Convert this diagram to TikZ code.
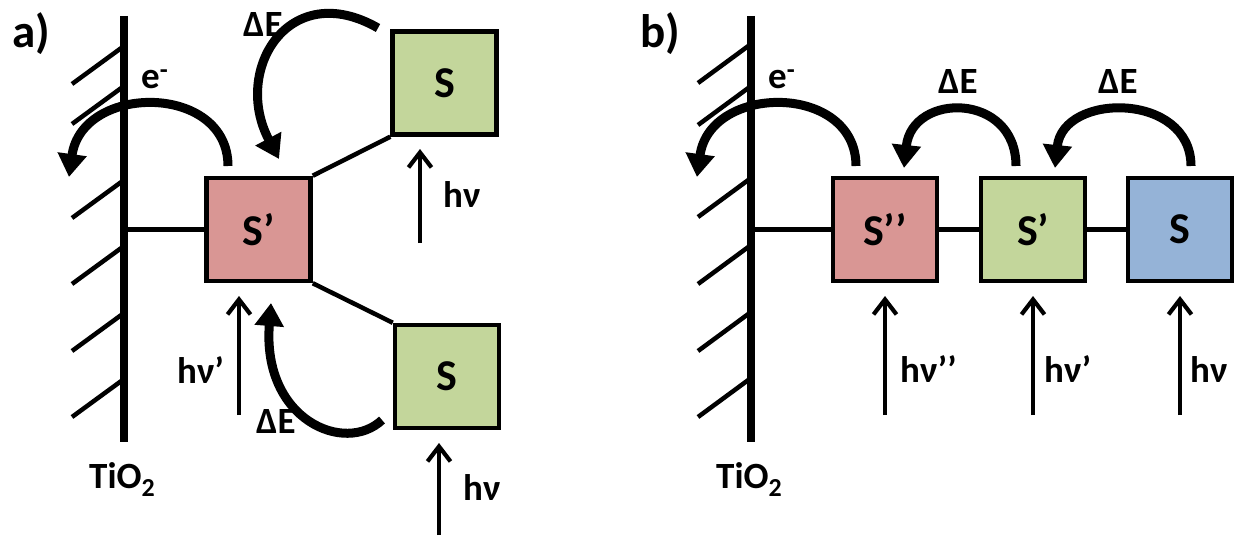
\documentclass[tikz,border=0pt]{standalone}
\usepackage{fontspec}
\setmainfont{Carlito}
\usetikzlibrary{arrows.meta}
\definecolor{pinkfill}{HTML}{D99694}
\definecolor{greenfill}{HTML}{C3D69B}
\definecolor{bluefill}{HTML}{95B3D7}
\begin{document}
\begin{tikzpicture}[x=1pt,y=-1pt,
  wall/.style={line width=7.5pt},
  hatch/.style={line width=4.5pt},
  conn/.style={line width=4.5pt},
  box/.style={draw, line width=4.5pt, minimum width=104pt, minimum height=103pt, inner sep=0pt,
    font=\fontsize{44}{50}\selectfont\bfseries},
  hvarrow/.style={line width=4.2pt, -{Straight Barb[length=15pt,width=23pt]}},
  bigarrow/.style={line width=9pt, -{Triangle[length=23pt,width=28pt]}},
  lab/.style={anchor=base west, inner sep=0pt, font=\fontsize{37}{42}\selectfont\bfseries},
  panel/.style={anchor=base west, inner sep=0pt, font=\fontsize{47}{52}\selectfont\bfseries}
]
\useasboundingbox (0,0) rectangle (1241,535);

% ---------------- panel a ----------------
\node[panel] (pa) at (12,48) {a)};
\coordinate (wAt) at (124,16);
\coordinate (wAb) at (124,442);
\draw[wall] (wAt) -- (wAb);
\foreach \y in {46,86,180,246,313,379}
  \draw[hatch] (124,\y) -- ++(-52,38);
\node[lab] (tioA) at (89,488) {TiO\textsubscript{2}};

\node[box, fill=pinkfill] (Sp) at (258.5,229.5) {S’};
\node[box, fill=greenfill] (St) at (444.5,83) {S};
\node[box, fill=greenfill] (Sb) at (447,376.5) {S};

\draw[conn] (Sp.west) -- (Sp.west -| wAt);
\draw[conn] (Sp.north east) -- (St.south west);
\draw[conn] (Sp.south east) -- (Sb.north west);

% h nu arrows (a)
\coordinate (hvA1s) at (420,243);
\coordinate (hvA1e) at (420,149);
\draw[hvarrow] (hvA1s) -- (hvA1e);
\node[lab] (lhvA1) at (443,207) {hν};
\coordinate (hvA2s) at (239,415);
\coordinate (hvA2e) at (239,296);
\draw[hvarrow] (hvA2s) -- (hvA2e);
\node[lab] (lhvA2) at (177,383) {hν’};
\coordinate (hvA3s) at (439,535);
\coordinate (hvA3e) at (439,443);
\draw[hvarrow] (hvA3s) -- (hvA3e);
\node[lab] (lhvA3) at (463,500) {hν};

% curved arrows (a)
\coordinate (eAs) at (228,166);
\coordinate (eAe) at (69,177);
\draw[bigarrow] (eAs) .. controls (228,83) and (82,83) .. (eAe);
\node[lab] (leA) at (141,88) {e\textsuperscript{-}};

\coordinate (dA1s) at (378,28);
\coordinate (dA1e) at (279,159);
\draw[bigarrow] (dA1s) .. controls (289,-23) and (232,70) .. (dA1e);
\node[lab] (ldA1) at (243,37) {ΔE};

\coordinate (dA2s) at (382,420);
\coordinate (dA2e) at (271,303);
\draw[bigarrow] (dA2s) .. controls (345,455) and (262,420) .. (dA2e);
\node[lab] (ldA2) at (256,433) {ΔE};

% ---------------- panel b ----------------
\node[panel] (pb) at (640,48) {b)};
\coordinate (wBt) at (751,16);
\coordinate (wBb) at (751,442);
\draw[wall] (wBt) -- (wBb);
\foreach \y in {44,86,178,245,312,378}
  \draw[hatch] (751,\y) -- ++(-53,39);
\node[lab] (tioB) at (716,488) {TiO\textsubscript{2}};

\node[box, fill=pinkfill] (B1) at (885,229.5) {S’’};
\node[box, fill=greenfill] (B2) at (1033,229.5) {S’};
\node[box, fill=bluefill] (B3) at (1180,229.5) {S};

\draw[conn] (B1.west) -- (B1.west -| wBt);
\draw[conn] (B1.east) -- (B2.west);
\draw[conn] (B2.east) -- (B3.west);

\coordinate (hvB1s) at (885,415);
\coordinate (hvB1e) at (885,296);
\draw[hvarrow] (hvB1s) -- (hvB1e);
\node[lab] (lhvB1) at (900,382) {hν’’};
\coordinate (hvB2s) at (1033,415);
\coordinate (hvB2e) at (1033,296);
\draw[hvarrow] (hvB2s) -- (hvB2e);
\node[lab] (lhvB2) at (1044,382) {hν’};
\coordinate (hvB3s) at (1180,415);
\coordinate (hvB3e) at (1180,296);
\draw[hvarrow] (hvB3s) -- (hvB3e);
\node[lab] (lhvB3) at (1190,382) {hν};

\coordinate (eBs) at (856,166);
\coordinate (eBe) at (697,177);
\draw[bigarrow] (eBs) .. controls (856,83) and (710,83) .. (eBe);
\node[lab] (leB) at (768,88) {e\textsuperscript{-}};

\coordinate (dB1s) at (1016,166);
\coordinate (dB1e) at (904,168);
\draw[bigarrow] (dB1s) .. controls (1016,92) and (912,92) .. (dB1e);
\node[lab] (ldB1) at (938,93) {ΔE};

\coordinate (dB2s) at (1191,166);
\coordinate (dB2e) at (1055,168);
\draw[bigarrow] (dB2s) .. controls (1191,92) and (1063,92) .. (dB2e);
\node[lab] (ldB2) at (1098,93) {ΔE};
\end{tikzpicture}
\end{document}
